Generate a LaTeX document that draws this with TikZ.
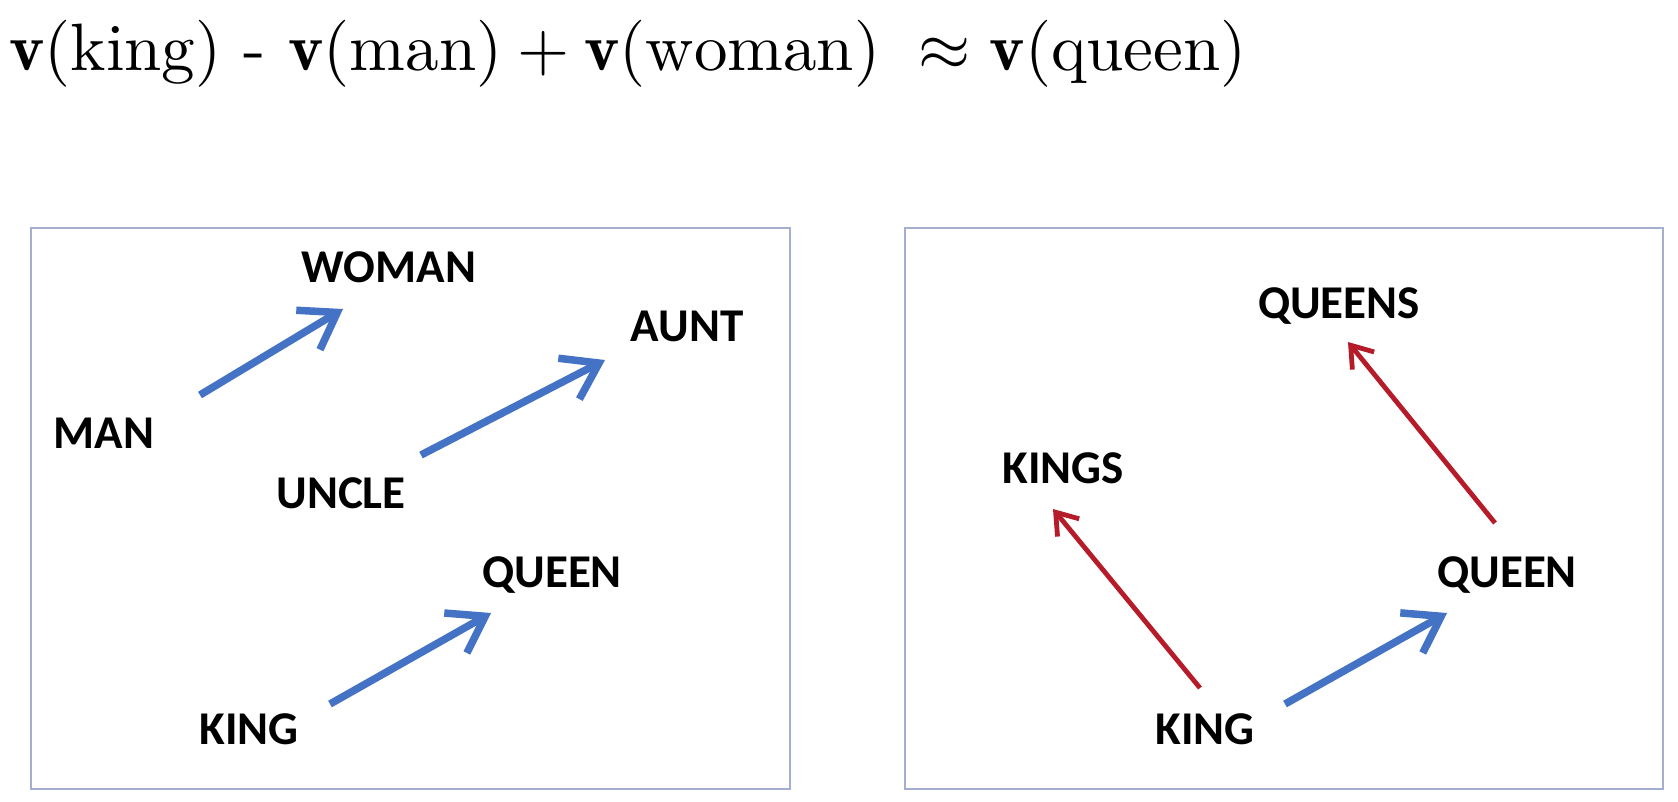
\documentclass[tikz,border=0pt]{standalone}
\usepackage{graphicx}
\usepackage{fontspec}
\newfontfamily\lblfont{Carlito}
\usetikzlibrary{arrows.meta}
\definecolor{arrowblue}{HTML}{4472C4}
\definecolor{arrowred}{HTML}{B51B28}
\definecolor{boxline}{HTML}{A4AFCF}
\tikzset{
  word/.style={font=\lblfont\bfseries\fontsize{47pt}{50pt}\selectfont, inner sep=0pt, text height=30pt, text depth=0pt},
  panel/.style={draw=boxline, line width=2.2pt},
  bluearrow/.style={draw=arrowblue, line width=7.5pt, -{Straight Barb[length=34pt,width=46pt]}},
  redarrow/.style={draw=arrowred, line width=4.8pt, -{Straight Barb[length=20pt,width=28pt]}},
}
\begin{document}
\begin{tikzpicture}[x=1pt,y=-1pt]
\useasboundingbox[fill=white] (0,0) rectangle (1678,801);
% formula
\node[anchor=west, inner sep=0pt] (formula) at (9,54)
  {\resizebox{1237pt}{!}{$\mathbf{v}(\mathrm{king})$ - $\mathbf{v}(\mathrm{man})+\mathbf{v}(\mathrm{woman})\hspace{0.3em}\approx\mathbf{v}(\mathrm{queen})$}};
% panels
\node[panel, minimum width=759pt, minimum height=561pt, anchor=north west, inner sep=0pt] (leftpanel) at (30,227) {};
\node[panel, minimum width=758pt, minimum height=561pt, anchor=north west, inner sep=0pt] (rightpanel) at (904,227) {};
% left words
\node[word] (woman) at (389,267) {WOMAN};
\node[word] (aunt) at (687,326) {AUNT};
\node[word] (man) at (104,433) {MAN};
\node[word] (uncle) at (341,493) {UNCLE};
\node[word] (queenL) at (552,572) {QUEEN};
\node[word] (kingL) at (249,729) {KING};
% right words
\node[word] (queens) at (1339,303) {QUEENS};
\node[word] (kings) at (1063,468) {KINGS};
\node[word] (queenR) at (1507,572) {QUEEN};
\node[word] (kingR) at (1205,729) {KING};
% arrow end points
\coordinate (a1s) at (200,395); \coordinate (a1e) at (343,309);
\coordinate (a2s) at (421,455); \coordinate (a2e) at (605,360);
\coordinate (a3s) at (330,704); \coordinate (a3e) at (491,613);
\coordinate (r1s) at (1200,688); \coordinate (r1e) at (1053,509);
\coordinate (r2s) at (1495,523); \coordinate (r2e) at (1348,342);
\coordinate (b1s) at (1285,704); \coordinate (b1e) at (1447,613);
\draw[bluearrow] (a1s) -- (a1e);
\draw[bluearrow] (a2s) -- (a2e);
\draw[bluearrow] (a3s) -- (a3e);
\draw[redarrow] (r1s) -- (r1e);
\draw[redarrow] (r2s) -- (r2e);
\draw[bluearrow] (b1s) -- (b1e);
\end{tikzpicture}
\end{document}
